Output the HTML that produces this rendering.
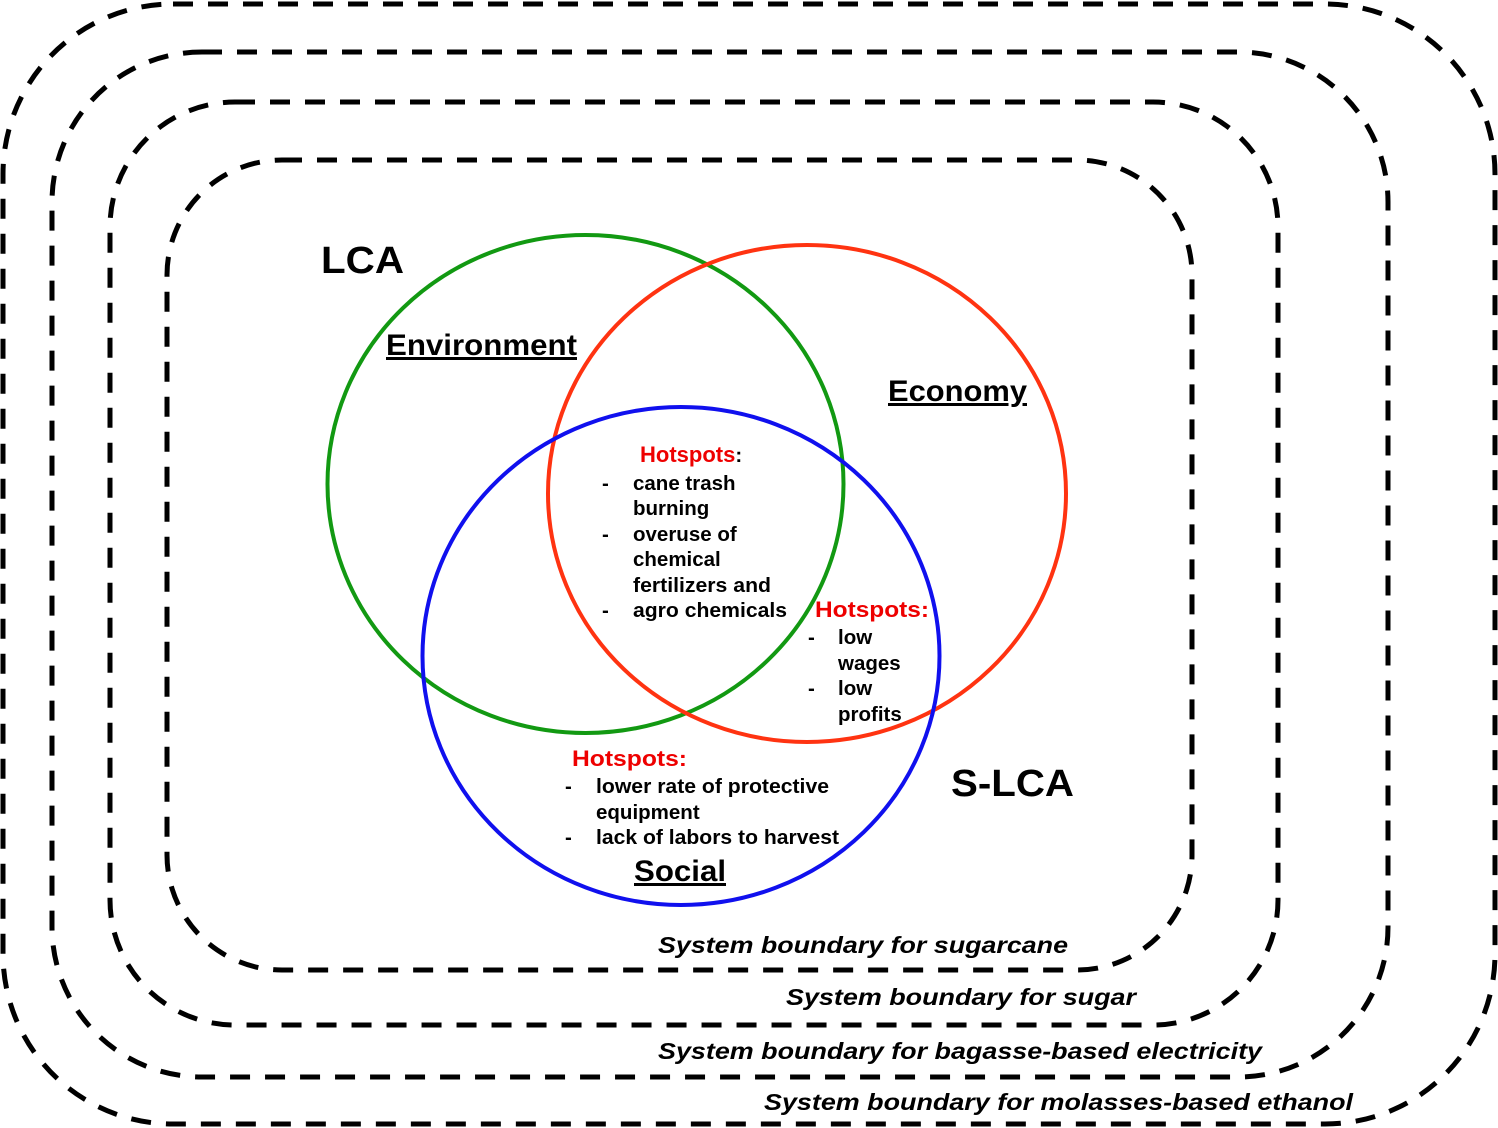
<!DOCTYPE html>
<html><head><style>body{margin:0;background:#fff}svg{display:block}text{font-family:"Liberation Sans",Arial,sans-serif;font-weight:bold}</style></head><body>
<svg width="1498" height="1128" viewBox="0 0 1498 1128" xmlns="http://www.w3.org/2000/svg">
<g fill="none" stroke="#000" stroke-width="5" stroke-dasharray="20 15">
<rect x="3" y="4" width="1492" height="1120" rx="170" ry="170"/>
<rect x="52" y="52" width="1336" height="1025" rx="150" ry="150"/>
<rect x="110" y="102" width="1168" height="923" rx="125" ry="125"/>
<rect x="167" y="160" width="1025" height="810" rx="115" ry="115"/>
</g>
<ellipse cx="585.5" cy="484" rx="258" ry="249" fill="none" stroke="#129912" stroke-width="4"/>
<ellipse cx="807" cy="493.5" rx="259" ry="248.5" fill="none" stroke="#ff3311" stroke-width="4"/>
<ellipse cx="681" cy="656" rx="258.5" ry="249" fill="none" stroke="#1010ee" stroke-width="4"/>
<g lengthAdjust="spacingAndGlyphs">
<text x="321" y="273" font-size="38" textLength="83" lengthAdjust="spacingAndGlyphs">LCA</text>
<text x="951" y="796" font-size="38" textLength="123" lengthAdjust="spacingAndGlyphs">S-LCA</text>
<text x="386" y="355" font-size="30" text-decoration="underline" textLength="191" lengthAdjust="spacingAndGlyphs">Environment</text>
<text x="888" y="401" font-size="30" text-decoration="underline" textLength="139" lengthAdjust="spacingAndGlyphs">Economy</text>
<text x="634" y="881" font-size="30" text-decoration="underline" textLength="92" lengthAdjust="spacingAndGlyphs">Social</text>
</g>
<g font-size="20.5">
<text x="640" y="462"><tspan fill="#ee0000" font-size="22">Hotspots</tspan>:</text>
<text x="602" y="490">-</text><text x="633" y="490">cane trash</text>
<text x="633" y="515">burning</text>
<text x="602" y="541">-</text><text x="633" y="541">overuse of</text>
<text x="633" y="566">chemical</text>
<text x="633" y="592" textLength="138" lengthAdjust="spacingAndGlyphs">fertilizers and</text>
<text x="602" y="617">-</text><text x="633" y="617" textLength="154" lengthAdjust="spacingAndGlyphs">agro chemicals</text>
<text x="815" y="617" fill="#ee0000" font-size="22" textLength="114" lengthAdjust="spacingAndGlyphs">Hotspots:</text>
<text x="808" y="644">-</text><text x="838" y="644">low</text>
<text x="838" y="670">wages</text>
<text x="808" y="695">-</text><text x="838" y="695">low</text>
<text x="838" y="721">profits</text>
<text x="572" y="766" fill="#ee0000" font-size="22" textLength="115" lengthAdjust="spacingAndGlyphs">Hotspots:</text>
<text x="565" y="793">-</text><text x="596" y="793" textLength="233" lengthAdjust="spacingAndGlyphs">lower rate of protective</text>
<text x="596" y="819">equipment</text>
<text x="565" y="844">-</text><text x="596" y="844" textLength="243" lengthAdjust="spacingAndGlyphs">lack of labors to harvest</text>
</g>
<g font-size="23" font-style="italic">
<text x="658" y="953" textLength="410" lengthAdjust="spacingAndGlyphs">System boundary for sugarcane</text>
<text x="786" y="1005" textLength="350" lengthAdjust="spacingAndGlyphs">System boundary for sugar</text>
<text x="658" y="1059" textLength="604" lengthAdjust="spacingAndGlyphs">System boundary for bagasse-based electricity</text>
<text x="764" y="1110" textLength="589" lengthAdjust="spacingAndGlyphs">System boundary for molasses-based ethanol</text>
</g>
</svg>
</body></html>
